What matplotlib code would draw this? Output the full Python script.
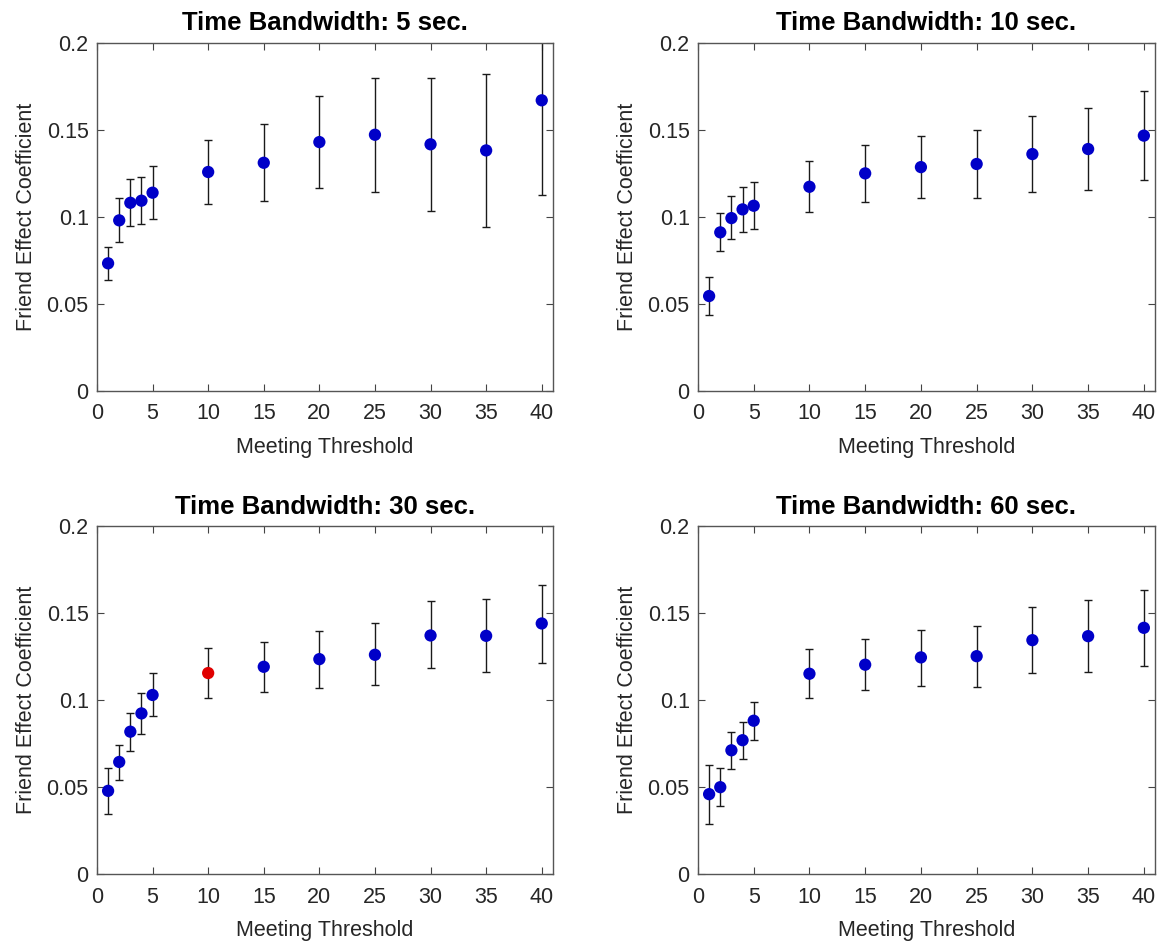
import numpy as np
import matplotlib
matplotlib.use('Agg')
import matplotlib.pyplot as plt
from matplotlib.ticker import FuncFormatter

plt.rcParams['font.family'] = ['Liberation Sans', 'DejaVu Sans']

# Meeting thresholds (x values shared by every panel)
thresholds = [1, 2, 3, 4, 5, 10, 15, 20, 25, 30, 35, 40]

titles = ['Time Bandwidth: 5 sec.', 'Time Bandwidth: 10 sec.',
          'Time Bandwidth: 30 sec.', 'Time Bandwidth: 60 sec.']

# Friend effect coefficient, with lower / upper error bar ends
coef_5 = [0.0732, 0.0979, 0.1080, 0.1092, 0.1138, 0.1257, 0.1310, 0.1429, 0.1471, 0.1416, 0.1381, 0.1669]
low_5 = [0.0634, 0.0856, 0.0948, 0.0956, 0.0987, 0.1075, 0.1092, 0.1165, 0.1144, 0.1033, 0.0941, 0.1126]
high_5 = [0.0828, 0.1105, 0.1216, 0.1230, 0.1289, 0.1441, 0.1531, 0.1693, 0.1799, 0.1799, 0.1822, 0.2213]

coef_10 = [0.0544, 0.0910, 0.0992, 0.1042, 0.1063, 0.1172, 0.1249, 0.1285, 0.1303, 0.1360, 0.1389, 0.1466]
low_10 = [0.0437, 0.0805, 0.0870, 0.0914, 0.0929, 0.1027, 0.1086, 0.1105, 0.1105, 0.1144, 0.1151, 0.1209]
high_10 = [0.0651, 0.1019, 0.1119, 0.1170, 0.1197, 0.1322, 0.1412, 0.1466, 0.1500, 0.1577, 0.1623, 0.1720]

coef_30 = [0.0480, 0.0646, 0.0820, 0.0925, 0.1031, 0.1157, 0.1193, 0.1237, 0.1262, 0.1373, 0.1371, 0.1442]
low_30 = [0.0344, 0.0541, 0.0711, 0.0809, 0.0908, 0.1011, 0.1046, 0.1073, 0.1086, 0.1184, 0.1164, 0.1216]
high_30 = [0.0612, 0.0742, 0.0927, 0.1044, 0.1157, 0.1300, 0.1338, 0.1398, 0.1444, 0.1570, 0.1580, 0.1665]

coef_60 = [0.0461, 0.0501, 0.0713, 0.0771, 0.0883, 0.1153, 0.1205, 0.1247, 0.1254, 0.1346, 0.1369, 0.1417]
low_60 = [0.0287, 0.0392, 0.0606, 0.0665, 0.0771, 0.1011, 0.1057, 0.1084, 0.1078, 0.1157, 0.1163, 0.1197]
high_60 = [0.0631, 0.0612, 0.0816, 0.0876, 0.0990, 0.1294, 0.1354, 0.1405, 0.1425, 0.1535, 0.1576, 0.1633]

# highlighted (red) point per panel: threshold value or None
highlight = [None, None, 10, None]

panels = [(coef_5, low_5, high_5), (coef_10, low_10, high_10),
          (coef_30, low_30, high_30), (coef_60, low_60, high_60)]

# axes positions [left, bottom, width, height] in figure fractions
positions = [[0.0836, 0.5857, 0.393, 0.369], [0.6017, 0.5857, 0.394, 0.369],
             [0.0836, 0.0728, 0.393, 0.369], [0.6017, 0.0728, 0.394, 0.369]]

fig = plt.figure(figsize=(11.6, 9.43), dpi=100)

for i, (coef, low, high) in enumerate(panels):
    ax = fig.add_axes(positions[i])
    x = np.array(thresholds)
    y = np.array(coef)
    yerr = [y - np.array(low), np.array(high) - y]
    ax.errorbar(x, y, yerr=yerr, fmt='none', ecolor='#1a1a1a', elinewidth=1.0,
                capsize=3, capthick=1.0, zorder=2)
    colors = ['#e00000' if t == highlight[i] else '#0000c8' for t in thresholds]
    ax.scatter(x, y, s=78, c=colors, edgecolors='none', zorder=3)

    ax.set_xlim(0, 41)
    ax.set_ylim(0, 0.2)
    ax.set_xticks(range(0, 41, 5))
    ax.set_yticks([0, 0.05, 0.1, 0.15, 0.2])
    ax.yaxis.set_major_formatter(FuncFormatter(lambda v, p: '%g' % round(v, 3)))
    ax.tick_params(direction='in', top=True, right=True, length=5, width=0.8,
                   color='#444444', labelsize=15.5, labelcolor='#262626')
    ax.tick_params(axis='x', pad=9)
    ax.tick_params(axis='y', pad=6)
    for s in ax.spines.values():
        s.set_color('#555555')
        s.set_linewidth(1.0)
    ax.set_title(titles[i], fontsize=18.5, fontweight='bold', pad=9)
    ax.set_xlabel('Meeting Threshold', fontsize=15.5, color='#262626', labelpad=9)
    ax.set_ylabel('Friend Effect Coefficient', fontsize=15.5, color='#262626', labelpad=7)

fig.savefig('out.png', dpi=100)
